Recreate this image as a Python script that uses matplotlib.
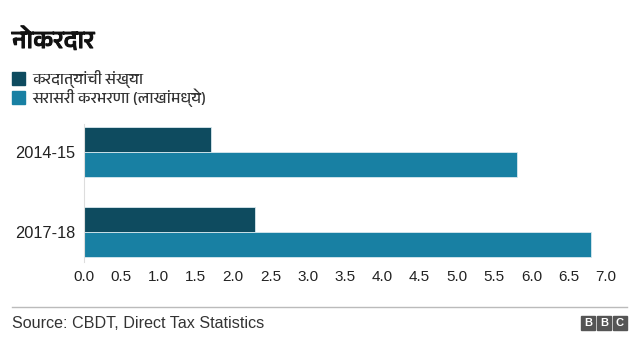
import matplotlib.pyplot as plt
import matplotlib.patheffects as pe
from matplotlib import font_manager
from matplotlib.patches import Rectangle
import numpy as np

# data
years = ['2014-15', '2017-18']
taxpayers = [1.70, 2.30]       # करदात्यांची संख्या
avg_tax = [5.80, 6.80]         # सरासरी करभरणा (लाखांमध्ये)
x_ticks = np.arange(0, 7.5, 0.5)

title = 'नोकरदार'
label1 = 'करदात्यांची संख्या'
label2 = 'सरासरी करभरणा (लाखांमध्ये)'
source = 'Source: CBDT, Direct Tax Statistics'

dark = '#0e4b5f'
light = '#1880a3'

# find a Devanagari font if one is installed
names = sorted({f.name for f in font_manager.fontManager.ttflist})
deva = [n for n in names if 'Devanagari' in n or n in ('Lohit Marathi', 'Lohit Hindi', 'Mukta', 'Kalimati', 'FreeSans', 'Gargi')]
deva_fam = deva[:1] + ['Liberation Sans', 'DejaVu Sans']

plt.rcParams['font.family'] = ['Liberation Sans', 'DejaVu Sans']

fig = plt.figure(figsize=(6.4, 3.6), dpi=100)
ax = fig.add_axes([0.131, 0.272, 0.816, 0.395])

y = np.arange(len(years))
h = 0.3125
ax.barh(y - h / 2, taxpayers, height=h, color=dark, edgecolor='#d8e8ee', linewidth=0.6)
ax.barh(y + h / 2, avg_tax, height=h, color=light, edgecolor='#d8e8ee', linewidth=0.6)

ax.set_ylim(1.375, -0.4)
ax.set_xlim(0, 7.0)
ax.set_yticks(y)
ax.set_yticklabels(years, fontsize=11.8, color='#222222')
ax.set_xticks(x_ticks)
ax.set_xticklabels([f'{v:.1f}' for v in x_ticks], fontsize=11, color='#222222')
ax.tick_params(length=0, pad=6)
for s in ['top', 'right', 'bottom']:
    ax.spines[s].set_visible(False)
ax.spines['left'].set_color('#dddddd')
ax.spines['left'].set_bounds(-0.35, 1.375)

# title and legend
fig.text(12 / 640, 1 - 40 / 360, title, fontsize=18, fontweight='bold', family=deva_fam,
         va='center', ha='left', color='#111111',
         path_effects=[pe.withStroke(linewidth=0.8, foreground='#111111')])
fig.patches.append(Rectangle((12 / 640, 1 - 85 / 360), 13 / 640, 13 / 360,
                             transform=fig.transFigure, color=dark))
fig.patches.append(Rectangle((12 / 640, 1 - 104 / 360), 13 / 640, 13 / 360,
                             transform=fig.transFigure, color=light))
fig.text(32 / 640, 1 - 79 / 360, label1, fontsize=11.3, family=deva_fam,
         va='center', ha='left', color='#333333')
fig.text(32 / 640, 1 - 98 / 360, label2, fontsize=11.3, family=deva_fam,
         va='center', ha='left', color='#333333')

# footer
fig.add_artist(plt.Line2D([12 / 640, 627 / 640], [1 - 307 / 360] * 2,
                          transform=fig.transFigure, color='#bbbbbb', linewidth=1))
fig.text(12 / 640, 1 - 323 / 360, source, fontsize=11.6, va='center', ha='left', color='#333333')
for i, ch in enumerate('BBC'):
    x0 = (581 + i * 16) / 640
    fig.patches.append(Rectangle((x0, 1 - 330 / 360), 14 / 640, 14 / 360,
                                 transform=fig.transFigure, color='#555555'))
    fig.text(x0 + 7 / 640, 1 - 323 / 360, ch, fontsize=8, fontweight='bold',
             color='white', ha='center', va='center')

fig.savefig('out.png', dpi=100)
